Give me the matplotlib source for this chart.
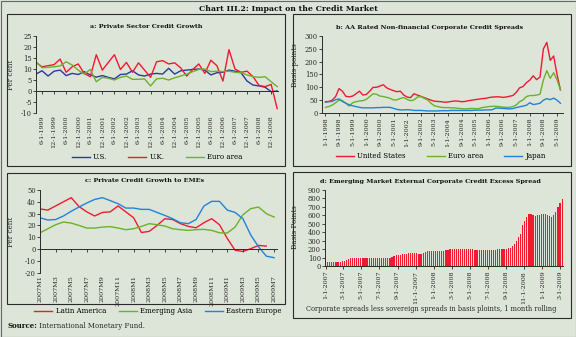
import numpy as np
import pandas as pd
import matplotlib
matplotlib.use('Agg')
import matplotlib.pyplot as plt
from matplotlib.lines import Line2D
from matplotlib.patches import Rectangle

plt.rcParams['font.family'] = 'DejaVu Serif'
plt.rcParams['axes.unicode_minus'] = False

BG = '#dde4d8'
INK = '#2a2a2a'
RED = '#f01a30'
GREEN = '#6cb12c'
NAVY = '#2b3a9c'
BLUE = '#2184d8'

W, H = 576, 337

# --- a: private sector credit growth (quarterly, 3-1-1999 .. 3-1-2009), per cent
a_labels = [f'{m}-1-{y}' for y in range(1999, 2009) for m in (6, 12)]
a_us = [7.7, 9.2, 6.8, 9.0, 9.5, 7.0, 8.0, 7.5, 8.8, 7.3, 6.3, 7.0, 6.2, 5.5,
        7.5, 7.7, 9.2, 7.3, 6.8, 7.7, 8.0, 7.7, 10.3, 7.7, 9.2, 9.5, 9.8, 10.0,
        9.5, 7.3, 8.3, 8.5, 9.5, 9.0, 8.3, 4.5, 2.7, 2.3, 1.7, -0.3, 0.0]
a_uk = [13, 11, 11.5, 12, 14.5, 8.5, 11, 12.3, 8, 6.5, 16.5, 9.5, 13, 16.5,
        9.8, 13, 8.5, 12.8, 9.5, 6.2, 13.3, 13.8, 12.3, 12.8, 10.5, 6.8, 9.8,
        12.3, 8, 14, 11.5, 4.5, 18.8, 10, 8.5, 9, 6.5, 2.5, 2, 3, -8]
a_euro = [13.3, 10.6, 10.8, 11, 11.4, 13.3, 11.8, 9.5, 7.7, 9.8, 4.2, 6.2,
          5.8, 5, 6.2, 6.8, 5.3, 5.3, 5.5, 2.3, 5.5, 5.8, 5, 6, 6.8, 7.7, 8.8,
          9.8, 10, 8.8, 9, 8.8, 9, 8.5, 8.3, 7.3, 6.5, 6.2, 6.5, 4.2, 2]

# --- b: AA rated non-financial corporate spreads (every 2 months from 1-1-1998), bp
b_months = list(range(0, 140, 2))
b_us = [44, 45, 50, 64, 95, 85, 65, 63, 66, 75,
        85, 70, 72, 85, 100, 100, 105, 110, 98, 92,
        87, 83, 85, 70, 62, 60, 75, 70, 65, 60,
        55, 50, 46, 45, 44, 42, 43, 45, 47, 46,
        44, 45, 48, 50, 52, 54, 56, 57, 60, 62,
        63, 63, 61, 62, 65, 68, 80, 98, 103, 118,
        128, 145, 130, 140, 250, 275, 205, 222, 150, 90]
b_euro = [22, 25, 31, 40, 50, 48, 38, 27, 40, 44,
          47, 48, 53, 64, 75, 73, 66, 64, 61, 57,
          51, 51, 57, 60, 53, 48, 51, 62, 64, 57,
          51, 38, 28, 25, 22, 21, 21, 20, 20, 18,
          17, 16, 17, 18, 17, 17, 21, 23, 25, 26,
          26, 25, 23, 22, 22, 25, 31, 44, 51, 64,
          68, 68, 70, 73, 129, 165, 135, 157, 129, 90]
b_japan = [42, 44, 45, 52, 55, 45, 38, 32, 28, 25,
           22, 20, 20, 20, 20, 21, 21, 22, 22, 22,
           18, 14, 12, 12, 13, 12, 10, 10, 10, 9,
           8, 8, 8, 8, 9, 9, 9, 10, 10, 10,
           10, 10, 10, 10, 11, 11, 11, 12, 12, 13,
           19, 19, 18, 17, 16, 17, 21, 24, 27, 30,
           40, 33, 35, 38, 50, 56, 52, 58, 50, 38]
b_tick_months = list(range(0, 137, 8))
b_labels = [f'{m % 12 + 1}-1-{1998 + m // 12}' for m in b_tick_months]

# --- c: private credit growth to EMEs (monthly, 2007M1 .. 2009M7), per cent
c_labels = [f'{2007 + k // 12}M{k % 12 + 1}' for k in range(0, 31, 2)]
c_latam = [34, 33, 36.5, 40, 43.5, 36, 31.5, 28, 31, 31.5, 36.5, 31.5, 26.5,
           14, 15, 20, 25.7, 25, 21.5, 19.2, 18, 22.3, 25.7, 20.6, 9, -1, -2,
           0.3, 3.1, 2.5]
c_asia = [13.8, 17.2, 20.6, 22.9, 22, 20, 17.8, 17.8, 18.6, 19, 17.8, 16.4,
          17.2, 19.2, 21.5, 20.6, 19.5, 17.2, 16.4, 15.8, 16.4, 16.7, 15.8,
          13.8, 13.6, 18.6, 29, 34.2, 35.6, 30, 27.1]
c_eeur = [26.5, 24.6, 25, 28, 32, 35.6, 39, 42, 43.5, 41, 38.4, 34.7, 34.7,
          33.6, 33.6, 31, 28.5, 25.7, 22.3, 21.5, 25, 36.4, 40.4, 40.4, 33, 31,
          25.7, 12, 2, -6, -7.3]

# --- d: EM external corporate credit excess spread (weekly from 1-1-2007), bp
d_start = '2007-01-01'
d_spread = [50, 50, 50, 50, 50, 50, 52, 53, 56, 62, 70, 80, 92, 97,
            97, 96, 97, 98, 97, 97, 96, 97, 97, 97, 96, 96, 95,
            92, 90, 90, 92, 100, 110, 118, 125, 130, 135, 140, 142, 146, 150,
            150, 151, 150, 149, 146, 147, 155, 165, 172, 176, 178,
            177, 176, 175, 174, 176, 180, 186, 192, 197,
            198, 198, 197, 196, 197, 200, 203, 205, 204, 200, 196, 192, 190,
            188, 187, 186, 186, 187, 188, 190, 191, 194, 197, 200, 203, 205, 207,
            210, 215, 240, 265, 300, 340, 380, 480, 530, 585, 610, 618, 605,
            598, 600, 608, 612, 615, 612, 600, 592, 585, 600, 640, 700, 745, 795]


def box(x0, y0, x1, y1):
    """pixel box (top-left origin) -> figure fraction rect"""
    return [x0 / W, 1 - y1 / H, (x1 - x0) / W, (y1 - y0) / H]


def frame(x0, y0, x1, y1, lw=0.8):
    fig.add_artist(Rectangle((x0 / W, 1 - y1 / H), (x1 - x0) / W, (y1 - y0) / H,
                             transform=fig.transFigure, fill=False,
                             ec=INK, lw=lw))


def style(ax, bottom=True):
    ax.set_facecolor('none')
    for s in ('top', 'right'):
        ax.spines[s].set_visible(False)
    ax.spines['bottom'].set_visible(bottom)
    for s in ('left', 'bottom'):
        ax.spines[s].set_color(INK)
        ax.spines[s].set_linewidth(0.7)
    ax.tick_params(axis='y', length=2.5, width=0.6, pad=0.5, labelsize=4.9,
                   colors=INK)
    ax.tick_params(axis='x', labelsize=4.6, colors=INK, pad=1.5)


def zero_axis(ax, ticks):
    ax.axhline(0, color=INK, lw=0.7)
    ax.plot(ticks, np.zeros(len(ticks)), ls='none', marker=3, ms=2.5,
            mec=INK, mew=0.6, clip_on=False)
    ax.tick_params(axis='x', length=0)


fig = plt.figure(figsize=(W / 100, H / 100), dpi=100, facecolor=BG)

fig.text(288 / W, 1 - 9 / H, 'Chart III.2: Impact on the Credit Market',
         ha='center', va='center', fontsize=5.6, fontweight='bold', color='#111')
fig.add_artist(Rectangle((0.5 / W, 0.5 / H), 1 - 1 / W, 1 - 1 / H,
                         transform=fig.transFigure, fill=False, ec='#666',
                         lw=0.8))

frame(7, 14, 285, 166)
frame(293, 14, 571, 166)
frame(7, 173, 285, 304)
frame(293, 172, 571, 318)

# a
ax = fig.add_axes(box(36, 36, 279, 113))
style(ax, bottom=False)
xa = np.arange(len(a_us))
ax.plot(xa, a_us, color=NAVY, lw=1.0)
ax.plot(xa, a_uk, color=RED, lw=1.0)
ax.plot(xa, a_euro, color=GREEN, lw=1.0)
ax.set_xlim(0, 40.3)
ax.set_ylim(-10, 25)
ax.set_yticks(range(-10, 26, 5))
ax.set_xticks(xa[1::2])
ax.set_xticklabels(a_labels, rotation=90)
zero_axis(ax, xa[1::2])
ax.set_ylabel('Per cent', fontsize=5.2, color=INK)
ax.yaxis.set_label_coords(-0.085, 0.5)
fig.text(146 / W, 1 - 27 / H, 'a: Private Sector Credit Growth', ha='center',
         va='center', fontsize=4.6, fontweight='bold', color='#111')
fig.legend([Line2D([], [], color=c, lw=1.0) for c in (NAVY, RED, GREEN)],
           ['U.S.', 'U.K.', 'Euro area'], loc='center', ncol=3, frameon=False,
           bbox_to_anchor=(157 / W, 1 - 157 / H), fontsize=5.0,
           handlelength=2.6, columnspacing=3.0, handletextpad=0.5)

# b
ax = fig.add_axes(box(322, 36, 563, 113))
style(ax)
ax.plot(b_months, b_us, color=RED, lw=1.0)
ax.plot(b_months, b_euro, color=GREEN, lw=1.0)
ax.plot(b_months, b_japan, color=BLUE, lw=1.0)
ax.set_xlim(-2, 139.5)
ax.set_ylim(0, 300)
ax.set_yticks(range(0, 301, 50))
ax.set_xticks(b_tick_months)
ax.set_xticklabels(b_labels, rotation=90)
ax.tick_params(axis='x', length=2, width=0.6)
ax.set_ylabel('Basis points', fontsize=5.2, color=INK)
ax.yaxis.set_label_coords(-0.095, 0.62)
fig.text(430 / W, 1 - 27 / H,
         'b: AA Rated Non-financial Corporate Credit Spreads', ha='center',
         va='center', fontsize=4.6, fontweight='bold', color='#111')
fig.legend([Line2D([], [], color=c, lw=1.0) for c in (RED, GREEN, BLUE)],
           ['United States', 'Euro area', 'Japan'], loc='center', ncol=3,
           frameon=False, bbox_to_anchor=(441 / W, 1 - 156 / H), fontsize=5.0,
           handlelength=2.6, columnspacing=3.0, handletextpad=0.5)

# c
ax = fig.add_axes(box(40, 190, 278, 272.7))
style(ax, bottom=False)
xc = np.arange(len(c_asia))
ax.plot(xc[:len(c_latam)], c_latam, color=RED, lw=1.0)
ax.plot(xc, c_asia, color=GREEN, lw=1.0)
ax.plot(xc, c_eeur, color=BLUE, lw=1.0)
ax.set_xlim(0, 30.5)
ax.set_ylim(-20, 50)
ax.set_yticks(range(-20, 51, 10))
ax.set_xticks(xc[::2])
ax.set_xticklabels(c_labels, rotation=90)
zero_axis(ax, xc[::2])
ax.set_ylabel('Per cent', fontsize=5.2, color=INK)
ax.yaxis.set_label_coords(-0.105, 0.49)
fig.text(145 / W, 1 - 181 / H, 'c: Private Credit Growth to EMEs',
         ha='center', va='center', fontsize=4.6, fontweight='bold',
         color='#111')
fig.legend([Line2D([], [], color=c, lw=1.0) for c in (RED, GREEN, BLUE)],
           ['Latin America', 'Emerging Asia', 'Eastern Europe'], loc='center',
           ncol=3, frameon=False, bbox_to_anchor=(158 / W, 1 - 311 / H),
           fontsize=5.0, handlelength=2.6, columnspacing=1.8,
           handletextpad=0.5)

# d
ax = fig.add_axes(box(325, 190, 563, 266))
style(ax)
d_dates = pd.date_range(d_start, periods=len(d_spread), freq='7D')
ax.bar(d_dates, d_spread, width=4.0, color=RED, lw=0)
ax.set_xlim(pd.Timestamp('2006-12-30'), pd.Timestamp('2009-03-12'))
ax.set_ylim(0, 900)
ax.set_yticks(range(0, 901, 100))
d_ticks = pd.date_range('2007-01-01', '2009-03-01', freq='2MS')
ax.set_xticks(d_ticks)
ax.set_xticklabels([f'{t.month}-1-{t.year}' for t in d_ticks], rotation=90)
ax.tick_params(axis='x', length=2, width=0.6)
ax.set_ylabel('Basis Points', fontsize=5.2, color=INK)
ax.yaxis.set_label_coords(-0.11, 0.51)
fig.text(430 / W, 1 - 181 / H,
         'd: Emerging Market External Corporate Credit Excess Spread',
         ha='center', va='center', fontsize=4.6, fontweight='bold',
         color='#111')
fig.text(431 / W, 1 - 309 / H,
         'Corporate spreads less sovereign spreads in basis ploints, 1 month rolling',
         ha='center', va='center', fontsize=4.8, color=INK)

src = fig.text(7 / W, 1 - 326 / H, 'Source:', ha='left', va='center',
               fontsize=5.0, fontweight='bold', color='#111')
ax.annotate(' International Monetary Fund.', xy=(1, 0.5), xycoords=src,
            ha='left', va='center', fontsize=5.0, color=INK,
            annotation_clip=False)

fig.savefig('out.png', dpi=100, facecolor=BG)
